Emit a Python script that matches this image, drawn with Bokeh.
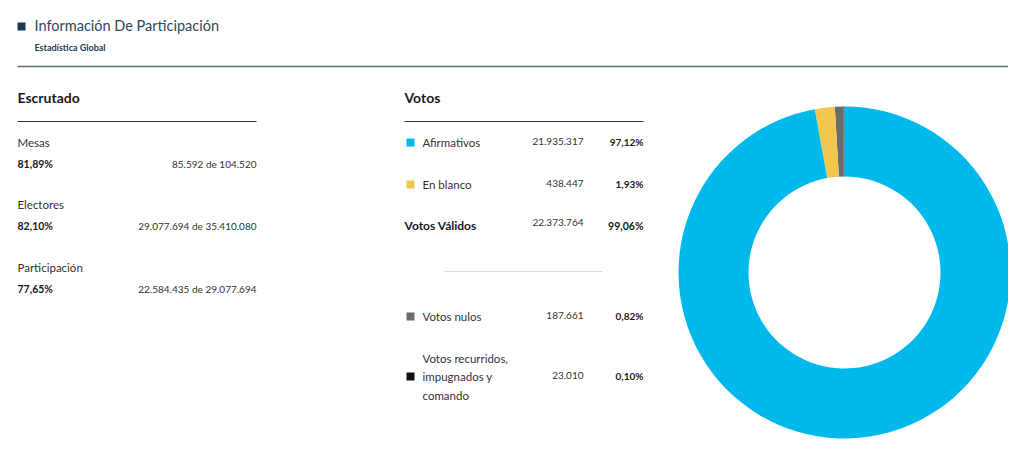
from bokeh.plotting import figure
from bokeh.models import Range1d, ColumnDataSource
from bokeh.core.properties import value
from bokeh.embed import file_html
from bokeh.resources import INLINE
import math

# ---------------- data ----------------
title = "Información De Participación"
subtitle = "Estadística Global"

escrutado_title = "Escrutado"
escrutado_labels = ["Mesas", "Electores", "Participación"]
escrutado_pct = ["81,89%", "82,10%", "77,65%"]
escrutado_done = [85592, 29077694, 22584435]
escrutado_total = [104520, 35410080, 29077694]

votos_title = "Votos"
vote_labels = ["Afirmativos", "En blanco", "Votos nulos", "Votos recurridos,\nimpugnados y\ncomando"]
vote_counts = [21935317, 438447, 187661, 23010]
vote_pct = ["97,12%", "1,93%", "0,82%", "0,10%"]
vote_colors = ["#00b9ec", "#f1c74f", "#6b6b6b", "#111111"]
valid_label = "Votos Válidos"
valid_count = 22373764
valid_pct = "99,06%"

# ---------------- helpers ----------------
FONT = "Lato"
H = 447
def Y(v):
    return H - v

def fmt(n):
    return f"{n:,}".replace(",", ".")

p = figure(width=1008, height=447, output_backend="svg", toolbar_location=None,
           x_range=Range1d(0, 1008), y_range=Range1d(0, 447), min_border=0)
p.axis.visible = False
p.grid.visible = False
p.outline_line_color = None
p.background_fill_color = "white"
p.border_fill_color = "white"

def txt(xs, ys, texts, size, color, align="left", style="normal"):
    src = ColumnDataSource(dict(x=xs, y=[Y(v) for v in ys], t=texts))
    p.text(x="x", y="y", text="t", source=src, text_font=value(FONT),
           text_font_size=size, text_color=color, text_align=align,
           text_baseline="middle", text_font_style=style)

# ---------------- header ----------------
p.rect(x=[21], y=[Y(26)], width=8, height=8, width_units="screen", height_units="screen",
       fill_color="#1c3a52", line_color=None)
txt([34], [25], [title], "14.5px", "#2e4a5c")
txt([34], [47], [subtitle], "9px", "#1f3b57", style="bold")
p.segment(x0=[17], y0=[Y(66)], x1=[1008], y1=[Y(66)], line_color="#5f7079", line_width=1.5)

# ---------------- escrutado ----------------
txt([17], [97], [escrutado_title], "14px", "#1a1a1a", style="bold")
p.segment(x0=[17], y0=[Y(121)], x1=[256], y1=[Y(121)], line_color="#333333", line_width=1)
row_y = [142, 204, 267]
txt([17] * 3, row_y, escrutado_labels, "11.5px", "#333333")
txt([17] * 3, [v + 21 for v in row_y], escrutado_pct, "10.5px", "#1a1a1a", style="bold")
txt([256] * 3, [v + 21 for v in row_y],
    [f"{fmt(a)} de {fmt(b)}" for a, b in zip(escrutado_done, escrutado_total)],
    "10px", "#333333", align="right")

# ---------------- votos ----------------
txt([404], [97], [votos_title], "14px", "#1a1a1a", style="bold")
p.segment(x0=[404], y0=[Y(121)], x1=[643], y1=[Y(121)], line_color="#333333", line_width=1)

vy = [142, 184, 316, 376]
p.rect(x=[410] * 4, y=[Y(v) for v in vy], width=8, height=8, width_units="screen",
       height_units="screen", fill_color=vote_colors, line_color=None)
for lab, y in zip(vote_labels, vy):
    lines = lab.split("\n")
    n = len(lines)
    ys = [y + (i - (n - 1) / 2) * 18.5 for i in range(n)]
    txt([422] * n, ys, lines, "11.5px", "#333333")
txt([583] * 4, [v - 1.5 for v in vy], [fmt(c) for c in vote_counts], "10px", "#333333", align="right")
txt([643] * 4, [v - 0.5 for v in vy], vote_pct, "10px", "#1a1a1a", align="right", style="bold")

txt([404], [225], [valid_label], "12px", "#1a1a1a", style="bold")
txt([583], [222], [fmt(valid_count)], "10px", "#333333", align="right")
txt([643], [225], [valid_pct], "10.5px", "#1a1a1a", align="right", style="bold")
p.segment(x0=[444], y0=[Y(271)], x1=[602], y1=[Y(271)], line_color="#dddddd", line_width=1)

# ---------------- donut ----------------
total = sum(vote_counts)
order = [3, 2, 1, 0]  # anticlockwise from top: recurridos, nulos, blanco, afirmativos
starts, ends, cols = [], [], []
a = math.pi / 2
for i in order:
    span = 2 * math.pi * vote_counts[i] / total
    starts.append(a)
    ends.append(a + span)
    cols.append(vote_colors[i])
    a += span
p.annular_wedge(x=[844] * 4, y=[Y(272)] * 4, inner_radius=96, outer_radius=166,
                inner_radius_units="screen", outer_radius_units="screen",
                start_angle=starts, end_angle=ends, direction="anticlock",
                fill_color=cols, line_color=None)

open("out.html", "w").write(file_html(p, INLINE))
